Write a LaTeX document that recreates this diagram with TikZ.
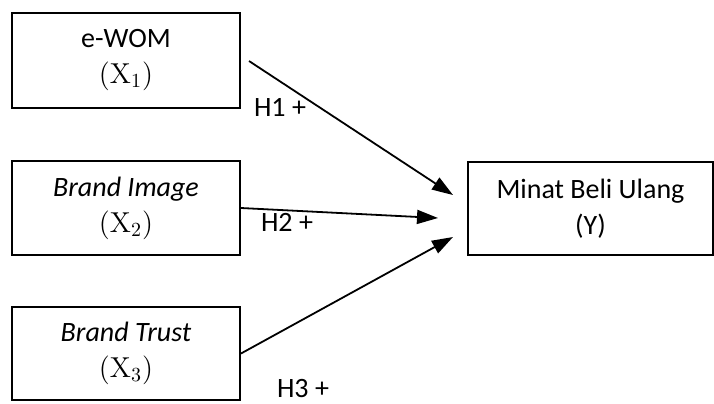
\documentclass[tikz,border=0pt]{standalone}
\usepackage[no-math]{fontspec}
\setmainfont{Carlito}
\usetikzlibrary{arrows.meta}
\begin{document}
\begin{tikzpicture}[x=0.5pt,y=-0.5pt,
  varbox/.style={draw,line width=1pt,inner sep=0pt,align=center,
    font=\fontsize{14}{18}\selectfont},
  path/.style={line width=0.9pt,-{Triangle[length=10.5pt,width=7pt]}},
  hyp/.style={font=\fontsize{14}{17}\selectfont,inner sep=0pt}]
\useasboundingbox (0,0) rectangle (714,403);
% independent variables
\node[varbox,minimum width=114pt,minimum height=47.5pt] (x1) at (126,60)
  {e-WOM\\$(\mathrm{X}_1)$};
\node[varbox,minimum width=114pt,minimum height=47pt] (x2) at (126,208)
  {\textit{Brand Image}\\$(\mathrm{X}_2)$};
\node[varbox,minimum width=114pt,minimum height=46.5pt] (x3) at (126,353.5)
  {\textit{Brand Trust}\\$(\mathrm{X}_3)$};
% dependent variable
\node[varbox,minimum width=122.5pt,minimum height=46.5pt] (y) at (590.5,208.5)
  {Minat Beli Ulang\\(Y)};
% arrow end points in front of the dependent box
\coordinate (s1) at (249,61);
\coordinate (e1) at (453,195);
\coordinate (e2) at (438,218);
\coordinate (e3) at (453,237);
\draw[path] (s1) -- (e1);
\draw[path] (x2.east) -- (e2);
\draw[path] (x3.east) -- (e3);
% hypothesis labels
\node[hyp] (h1) at (280,107) {H1 +};
\node[hyp] (h2) at (287,222) {H2 +};
\node[hyp] (h3) at (303,389) {H3 +};
\end{tikzpicture}
\end{document}
